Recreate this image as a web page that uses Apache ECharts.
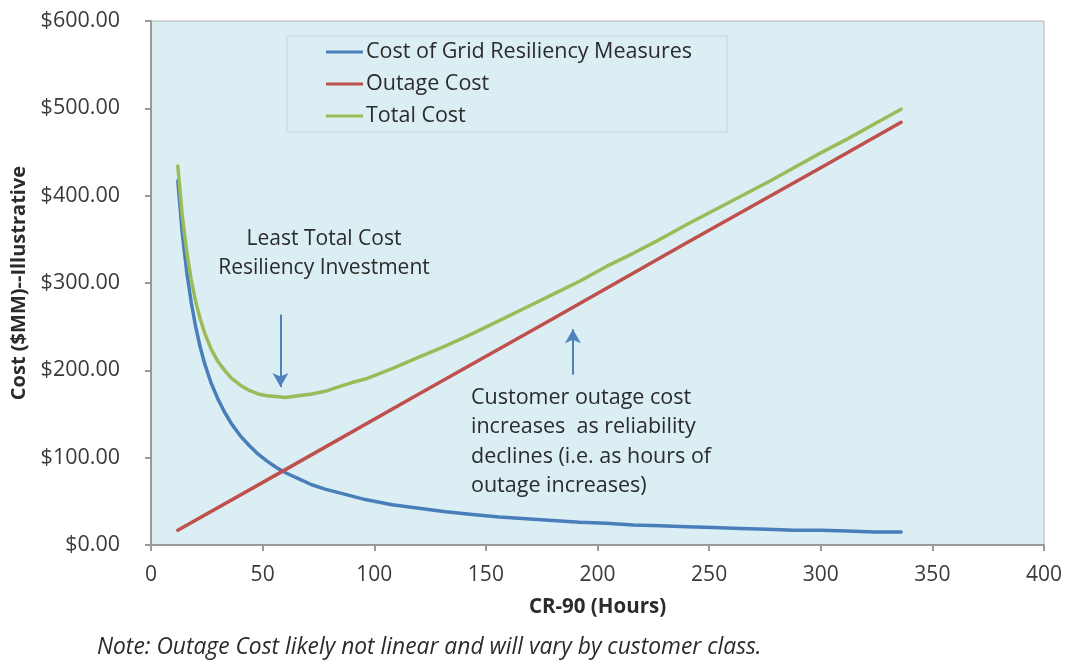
<!DOCTYPE html>
<html>
<head>
<meta charset="utf-8">
<script src="https://cdn.jsdelivr.net/npm/echarts@6/dist/echarts.min.js"></script>
<style>
html,body{margin:0;padding:0;background:#fff;}
#chart{width:1066px;height:662px;}
</style>
</head>
<body>
<div id="chart"></div>
<script>
// Hours along the x axis (CR-90) for the curved series
const hours = [12, 14, 16, 18, 20, 22, 24, 27, 30, 33, 36, 40, 44, 48, 52, 56, 60, 66, 72, 78, 84, 90, 96,
               108, 120, 132, 144, 156, 168, 180, 192, 204, 216, 228, 240, 252, 264, 276, 288, 300, 312, 324, 336];
// Cost of Grid Resiliency Measures ($MM)
const gridCost = [417, 357, 313, 278, 250, 227, 208, 185, 167, 152, 139, 125, 114, 104, 96, 89, 83, 76, 69, 64, 60, 56, 52,
                  46, 42, 38, 35, 32, 30, 28, 26, 25, 23, 22, 21, 20, 19, 18, 17, 17, 16, 15, 15];
// Total Cost ($MM)
const totalCost = [434, 377, 336, 304, 279, 259, 243, 224, 210, 200, 191, 183, 177, 173, 171, 170, 169, 171, 173, 176, 181, 186, 190,
                   202, 215, 228, 242, 257, 272, 287, 302, 319, 334, 350, 367, 383, 399, 415, 432, 449, 465, 482, 499];
// Outage Cost ($MM) - straight line
const outageHours = [12, 60, 120, 180, 240, 300, 336];
const outageCost = [17, 86, 173, 259, 346, 432, 484];

const seriesNames = ['Cost of Grid Resiliency Measures', 'Outage Cost', 'Total Cost'];
const xTicks = [0, 50, 100, 150, 200, 250, 300, 350, 400];
const yTicks = [0, 100, 200, 300, 400, 500, 600];

// Annotation arrows in data units [hour, cost]
const leastCostArrow = [[58, 264], [58, 181]];
const outageArrow = [[189, 195], [189, 247]];

const FONT = '"Open Sans", "Noto Sans", sans-serif';
const TXT = '#2b2b2b';
const AX = '#3a3a3a';

const pair = (xs, ys) => xs.map((x, i) => [x, ys[i]]);

const chart = echarts.init(document.getElementById('chart'), null, {renderer: 'canvas'});
chart.setOption({
  animation: false,
  backgroundColor: '#ffffff',
  textStyle: {fontFamily: FONT},
  grid: {left: 151, right: 22, top: 21, bottom: 117, show: true,
         backgroundColor: '#dbeef4', borderColor: '#b4b4b4', borderWidth: 1},
  legend: {
    orient: 'vertical', left: 287, top: 36,
    data: seriesNames,
    icon: 'rect', itemWidth: 37, itemHeight: 3, itemGap: 6,
    padding: [3, 35, 3, 39],
    borderColor: '#c9d3d8', borderWidth: 1,
    textStyle: {fontSize: 21.5, color: TXT, fontFamily: FONT, lineHeight: 26, padding: [0,0,0,-2]}
  },
  xAxis: {
    type: 'value', min: 0, max: 400, interval: 50,
    name: 'CR-90 (Hours)', nameLocation: 'middle', nameGap: 52,
    nameTextStyle: {fontSize: 20.5, fontWeight: 'bold', color: TXT, fontFamily: FONT},
    axisLine: {show: true, lineStyle: {color: '#9a9a9a', width: 2}},
    axisTick: {show: true, length: 6, lineStyle: {color: '#9a9a9a', width: 2}},
    axisLabel: {fontSize: 21, color: AX, margin: 20, fontFamily: FONT,
                formatter: v => xTicks.includes(v) ? String(v) : ''},
    splitLine: {show: false}
  },
  yAxis: {
    type: 'value', min: 0, max: 600, interval: 100,
    name: 'Cost ($MM)--Illustrative', nameLocation: 'middle', nameGap: 112, nameRotate: 90,
    nameTextStyle: {fontSize: 20, fontWeight: 'bold', color: TXT, fontFamily: FONT},
    axisLine: {show: true, lineStyle: {color: '#9a9a9a', width: 2}},
    axisTick: {show: true, length: 6, lineStyle: {color: '#9a9a9a', width: 2}},
    axisLabel: {fontSize: 21.5, color: AX, margin: 31, fontFamily: FONT,
                formatter: v => yTicks.includes(v) ? '$' + v.toFixed(2) : ''},
    splitLine: {show: false}
  },
  series: [
    {
      name: seriesNames[0], type: 'line', data: pair(hours, gridCost),
      smooth: false, showSymbol: false, color: '#4a7ebb',
      lineStyle: {width: 3.5, color: '#4a7ebb', join: 'round', cap: 'round'},
      markLine: {
        silent: true, symbol: ['none', 'arrow'], symbolSize: [12, 14],
        lineStyle: {color: '#4f81bd', width: 2, type: 'solid'},
        label: {show: false},
        data: [
          [{coord: leastCostArrow[0]}, {coord: leastCostArrow[1]}],
          [{coord: outageArrow[0]}, {coord: outageArrow[1]}]
        ]
      }
    },
    {
      name: seriesNames[1], type: 'line', data: pair(outageHours, outageCost),
      smooth: false, showSymbol: false, color: '#c0504d',
      lineStyle: {width: 3.5, color: '#c0504d', cap: 'round'}
    },
    {
      name: seriesNames[2], type: 'line', data: pair(hours, totalCost),
      smooth: false, showSymbol: false, color: '#9bbb59',
      lineStyle: {width: 3.5, color: '#9bbb59', join: 'round', cap: 'round'}
    }
  ],
  graphic: [
    {type: 'text', x: 324, y: 239, style: {text: 'Least Total Cost', fontSize: 21, fill: TXT, fontFamily: FONT, align: 'center', verticalAlign: 'middle'}},
    {type: 'text', x: 324, y: 268, style: {text: 'Resiliency Investment', fontSize: 21, fill: TXT, fontFamily: FONT, align: 'center', verticalAlign: 'middle'}},
    {type: 'text', x: 471, y: 383, style: {
      text: 'Customer outage cost\nincreases  as reliability\ndeclines (i.e. as hours of\noutage increases)',
      fontSize: 21.5, lineHeight: 29.5, fill: TXT, fontFamily: FONT, align: 'left', verticalAlign: 'top'}},
    {type: 'text', x: 97, y: 648, style: {
      text: 'Note: Outage Cost likely not linear and will vary by customer class.',
      fontSize: 22.8, fontStyle: 'italic', fill: TXT, fontFamily: FONT, align: 'left', verticalAlign: 'middle'}}
  ]
});
</script>
</body>
</html>
